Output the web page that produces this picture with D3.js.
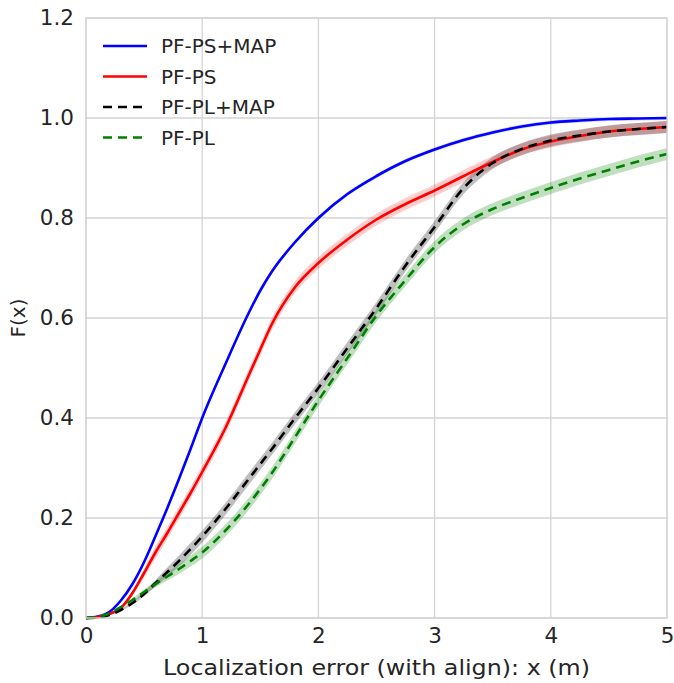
<!DOCTYPE html>
<html>
<head>
<meta charset="utf-8">
<script src="https://cdn.jsdelivr.net/npm/d3@7"></script>
<style>
  body { margin: 0; background: #fff; }
  svg text { font-family: "DejaVu Sans", sans-serif; fill: #262626; }
</style>
</head>
<body>
<script>

// data
const xs = [0, 0.1, 0.2, 0.3, 0.4, 0.5, 0.6, 0.7, 0.8, 0.9, 1.0, 1.2, 1.4, 1.5, 1.6, 1.8, 2.0,
    2.25, 2.5, 2.75, 3.0, 3.25, 3.5, 3.75, 4.0, 4.25, 4.5, 4.75, 5.0]

const psMap = [0, 0.003, 0.012, 0.035, 0.068, 0.112, 0.165, 0.22, 0.278, 0.338, 0.40, 0.508, 0.61, 0.655, 0.693, 0.752, 0.80,
    0.848, 0.884, 0.914, 0.937, 0.956, 0.971, 0.983, 0.991, 0.995, 0.998, 0.999, 1.0]
const ps = [0, 0.002, 0.008, 0.02, 0.05, 0.09, 0.132, 0.17, 0.21, 0.25, 0.292, 0.38, 0.485, 0.537, 0.588, 0.662, 0.71,
    0.757, 0.797, 0.828, 0.855, 0.884, 0.912, 0.937, 0.953, 0.964, 0.973, 0.978, 0.982]
const plMap = [0, 0.001, 0.006, 0.016, 0.03, 0.048, 0.07, 0.092, 0.114, 0.138, 0.163, 0.218, 0.278, 0.308, 0.338, 0.40, 0.46,
    0.54, 0.62, 0.705, 0.782, 0.86, 0.91, 0.938, 0.955, 0.965, 0.973, 0.978, 0.982]
const pl = [0, 0.002, 0.009, 0.022, 0.036, 0.052, 0.068, 0.083, 0.098, 0.114, 0.131, 0.175, 0.228, 0.258, 0.29, 0.362, 0.435,
    0.52, 0.605, 0.676, 0.742, 0.788, 0.818, 0.84, 0.86, 0.879, 0.896, 0.913, 0.928]

const names = ['PF-PS+MAP', 'PF-PS', 'PF-PL+MAP', 'PF-PL']
const colors = ['#0000ff', '#ff0000', '#000000', '#008000']
const bandColors = ['rgba(0,0,255,0.18)', 'rgba(255,0,0,0.2)', 'rgba(0,0,0,0.25)', 'rgba(0,128,0,0.25)']
const spreads = [0.004, 0.012, 0.012, 0.012]
const dashed = [false, false, true, true]
const series = [psMap, ps, plMap, pl]

const xTicks = [0, 1, 2, 3, 4, 5]
const yTicks = [0, 0.2, 0.4, 0.6, 0.8, 1.0, 1.2]

// layout
const W = 674, H = 683
const m = { l: 86, r: 7, t: 18, b: 65 }

const svg = d3.select('body').append('svg')
    .attr('width', W)
    .attr('height', H)

const x = d3.scaleLinear().domain([0, 5]).range([m.l, W - m.r])
const y = d3.scaleLinear().domain([0, 1.2]).range([H - m.b, m.t])

// grid
const grid = svg.append('g')
grid.selectAll('.gx').data(xTicks).join('line')
    .attr('x1', d => x(d)).attr('x2', d => x(d))
    .attr('y1', y(0)).attr('y2', y(1.2))
    .attr('stroke', '#d5d5d5').attr('stroke-width', 1.3)
grid.selectAll('.gy').data(yTicks).join('line')
    .attr('y1', d => y(d)).attr('y2', d => y(d))
    .attr('x1', x(0)).attr('x2', x(5))
    .attr('stroke', '#d5d5d5').attr('stroke-width', 1.3)

// axes (labels only, seaborn style)
const xAxis = svg.append('g')
    .attr('transform', `translate(0,${y(0)})`)
    .call(d3.axisBottom(x).tickValues(xTicks).tickSize(0).tickPadding(10).tickFormat(d3.format('d')))
const yAxis = svg.append('g')
    .attr('transform', `translate(${x(0)},0)`)
    .call(d3.axisLeft(y).tickValues(yTicks).tickSize(0).tickPadding(12).tickFormat(d3.format('.1f')))
for (const a of [xAxis, yAxis]) {
    a.select('.domain').remove()
    a.selectAll('text').style('font-size', '21.5px').attr('fill', '#262626')
}

// bands + lines
const idx = d3.range(xs.length)
const area = (vals, s) => d3.area()
    .x(i => x(xs[i]))
    .y0(i => y(Math.max(0, vals[i] - s * Math.min(1, vals[i] * 8))))
    .y1(i => y(Math.min(1, vals[i] + s * Math.min(1, vals[i] * 8))))
    .curve(d3.curveMonotoneX)
const line = vals => d3.line()
    .x(i => x(xs[i]))
    .y(i => y(vals[i]))
    .curve(d3.curveMonotoneX)

const plot = svg.append('g')
series.forEach((vals, k) => {
    plot.append('path')
        .attr('d', area(vals, spreads[k])(idx))
        .attr('fill', bandColors[k])
})
series.forEach((vals, k) => {
    plot.append('path')
        .attr('d', line(vals)(idx))
        .attr('fill', 'none')
        .attr('stroke', colors[k])
        .attr('stroke-width', 2.6)
        .attr('stroke-dasharray', dashed[k] ? '9,6' : null)
})

// frame
svg.append('rect')
    .attr('x', x(0)).attr('y', y(1.2))
    .attr('width', x(5) - x(0)).attr('height', y(0) - y(1.2))
    .attr('fill', 'none').attr('stroke', '#d5d5d5').attr('stroke-width', 1.3)

// legend
const leg = svg.append('g')
names.forEach((n, k) => {
    const ly = 46 + k * 30.5
    leg.append('line')
        .attr('x1', 103).attr('x2', 147).attr('y1', ly).attr('y2', ly)
        .attr('stroke', colors[k]).attr('stroke-width', 2.6)
        .attr('stroke-dasharray', dashed[k] ? '9,6' : null)
    leg.append('text')
        .attr('x', 161).attr('y', ly + 7)
        .style('font-size', '20px')
        .text(n)
})

// axis titles
svg.append('text')
    .attr('x', 163).attr('y', 675)
    .attr('textLength', 427)
    .attr('lengthAdjust', 'spacingAndGlyphs')
    .style('font-size', '21.5px')
    .text('Localization error (with align): x (m)')
svg.append('text')
    .attr('transform', `translate(25,${(y(0) + y(1.2)) / 2}) rotate(-90)`)
    .attr('text-anchor', 'middle')
    .style('font-size', '20px')
    .text('F(x)')

</script>
</body>
</html>
